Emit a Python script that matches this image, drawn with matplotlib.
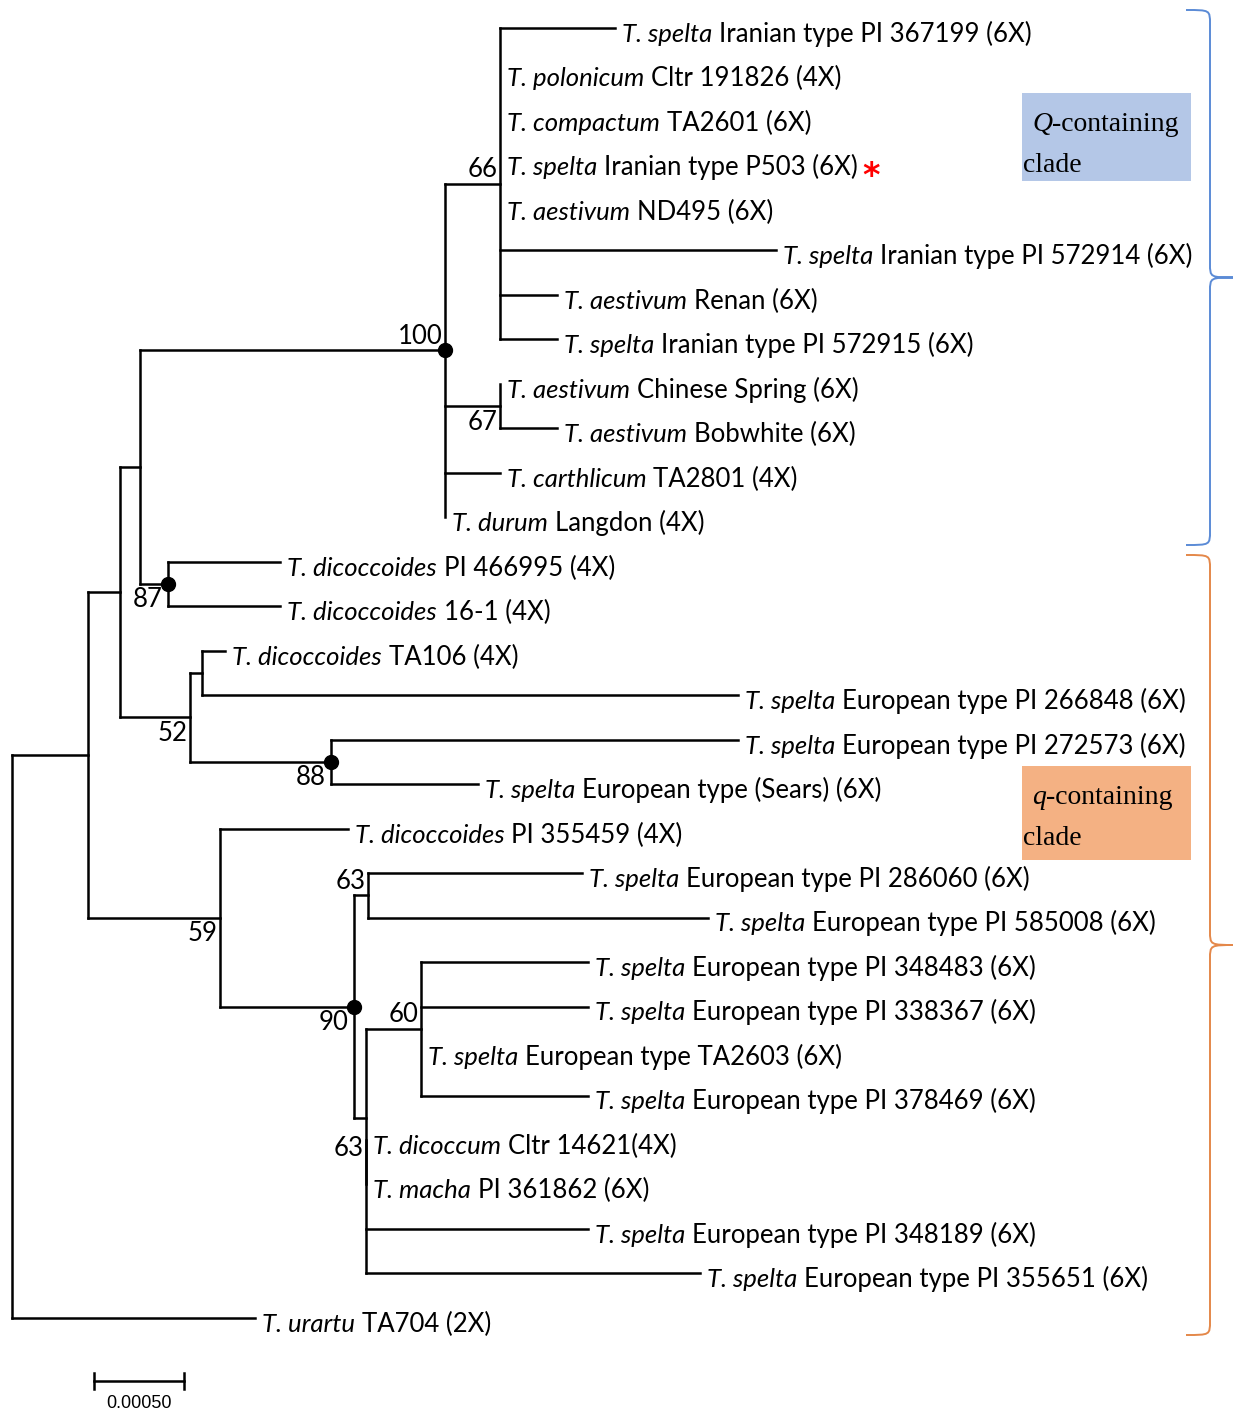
import matplotlib
matplotlib.use("Agg")
import matplotlib.pyplot as plt
from matplotlib.patches import Rectangle, PathPatch
from matplotlib.path import Path

# taxa from top to bottom
species = [
    "T. spelta", "T. polonicum", "T. compactum", "T. spelta", "T. aestivum",
    "T. spelta", "T. aestivum", "T. spelta", "T. aestivum", "T. aestivum",
    "T. carthlicum", "T. durum", "T. dicoccoides", "T. dicoccoides", "T. dicoccoides",
    "T. spelta", "T. spelta", "T. spelta", "T. dicoccoides", "T. spelta",
    "T. spelta", "T. spelta", "T. spelta", "T. spelta", "T. spelta",
    "T. dicoccum", "T. macha", "T. spelta", "T. spelta", "T. urartu",
]
strains = [
    "Iranian type PI 367199 (6X)", "Cltr 191826 (4X)", "TA2601 (6X)",
    "Iranian type P503 (6X)", "ND495 (6X)", "Iranian type PI 572914 (6X)",
    "Renan (6X)", "Iranian type PI 572915 (6X)", "Chinese Spring (6X)",
    "Bobwhite (6X)", "TA2801 (4X)", "Langdon (4X)", "PI 466995 (4X)",
    "16-1 (4X)", "TA106 (4X)", "European type PI 266848 (6X)",
    "European type PI 272573 (6X)", "European type (Sears) (6X)", "PI 355459 (4X)",
    "European type PI 286060 (6X)", "European type PI 585008 (6X)",
    "European type PI 348483 (6X)", "European type PI 338367 (6X)",
    "European type TA2603 (6X)", "European type PI 378469 (6X)",
    "Cltr 14621(4X)", "PI 361862 (6X)", "European type PI 348189 (6X)",
    "European type PI 355651 (6X)", "TA704 (2X)",
]
# terminal branch lengths (substitutions per site)
tip_len = [
    0.000639, 0.0, 0.0, 0.0, 0.0, 0.001533, 0.000317, 0.000317, 0.0, 0.000317,
    0.000306, 0.0, 0.000622, 0.000622, 0.000128, 0.002978, 0.002261, 0.000817,
    0.000711, 0.001189, 0.001889, 0.000928, 0.000928, 0.0, 0.000928,
    0.0, 0.0, 0.001233, 0.001856, 0.00135,
]
marked = [3]  # P503

# internal nodes: children are tip indices or node names
node_names = ["root", "A", "B", "D", "F", "H", "I", "G", "E", "J", "K",
              "C", "L", "M", "N", "O", "P"]
node_children = [
    ["A", 29], ["B", "C"], ["D", "E"], ["F", "G"], ["H", "I", 10, 11],
    [0, 1, 2, 3, 4, 5, 6, 7], [8, 9], [12, 13], ["J", "K"], [14, 15], [16, 17],
    [18, "L"], ["M", "N"], [19, 20], ["O", "P", 27, 28], [21, 22, 23, 24], [25, 26],
]
node_len = [0.0, 0.000422, 0.000178, 0.000111, 0.001694, 0.000306, 0.000306,
            0.000156, 0.000389, 0.000067, 0.000783, 0.000733, 0.000744,
            0.000078, 0.000067, 0.000306, 0.0]

boot_nodes = ["F", "H", "I", "G", "E", "K", "C", "M", "L", "O", "P"]
boot_vals = [100, 66, 67, 87, 52, 88, 59, 63, 90, 60, 63]
boot_above = ["F", "H", "M", "O", "P"]
dot_nodes = ["F", "G", "K", "L"]
# nodes drawn centred on their leaf span instead of their children
leaf_centred = ["N"]

scale_len = 0.0005
scale_label = "0.00050"

FS = 18.5
LFONT = ["Lato", "DejaVu Sans"]
LW = 1.8

fig = plt.figure(figsize=(12.33, 14.14), dpi=100)
ax = fig.add_axes([0, 0, 1, 1])
px = scale_len / 90.0
ax.set_xlim(-12 * px, 1221 * px)
ax.set_ylim(31.16, -0.63)
ax.axis("off")

tip_x = [0.0] * len(species)
node_x = {}
node_y = {}
span = {}


def seg(x0, x1, y0, y1):
    if x0 == x1 and y0 == y1:
        return
    ax.plot([x0, x1], [y0, y1], color="black", lw=LW, solid_capstyle="projecting")


def place(name, d):
    i = node_names.index(name)
    d = d + node_len[i]
    node_x[name] = d
    ys = []
    leaves = []
    for c in node_children[i]:
        if isinstance(c, int):
            tip_x[c] = d + tip_len[c]
            seg(d, tip_x[c], c, c)
            ys.append(c)
            leaves += [c, c]
        else:
            place(c, d)
            seg(d, node_x[c], node_y[c], node_y[c])
            ys.append(node_y[c])
            leaves += list(span[c])
    seg(d, d, ys[0], ys[-1])
    span[name] = (min(leaves), max(leaves))
    if name in leaf_centred:
        node_y[name] = sum(span[name]) / 2
    else:
        node_y[name] = (ys[0] + ys[-1]) / 2


place("root", 0.0)

# tip labels: italic genus/species, then regular accession on the same baseline
for i, (sp, rest) in enumerate(zip(species, strains)):
    t1 = ax.annotate(sp, xy=(tip_x[i], i), xytext=(5, -10), textcoords="offset points",
                     fontsize=FS, style="italic", family=LFONT, va="baseline", ha="left")
    t2 = ax.annotate(rest, xy=(1, i), xycoords=(t1, "data"), xytext=(5, -10),
                     textcoords="offset points", fontsize=FS, family=LFONT,
                     va="baseline", ha="left")
    if i in marked:
        ax.annotate("*", xy=(1, i), xycoords=(t2, "data"), xytext=(3, -18),
                    textcoords="offset points", fontsize=24, color="red",
                    fontweight="bold", va="baseline", ha="left")

# bootstrap values and dots
for n, v in zip(boot_nodes, boot_vals):
    up = n in boot_above
    dx = -4 if (n in dot_nodes and not up) else -1.5
    ax.annotate(str(v), xy=(node_x[n], node_y[n]), xytext=(dx, 1 if up else -2.5),
                textcoords="offset points", fontsize=FS, family=LFONT,
                ha="right", va="bottom" if up else "top")
for n in dot_nodes:
    ax.plot(node_x[n], node_y[n], "o", color="black", ms=10, zorder=5)

# scale bar
sx0 = 82 * px
sy = 30.42
ax.plot([sx0, sx0 + scale_len], [sy, sy], color="black", lw=1.8)
for xx in (sx0, sx0 + scale_len):
    ax.plot([xx, xx], [sy - 0.18, sy + 0.18], color="black", lw=1.8)
ax.annotate(scale_label, xy=(sx0 + scale_len / 2, sy), xytext=(0, -10),
            textcoords="offset points", fontsize=13, family="Liberation Sans",
            ha="center", va="top")

# decorations in pixel coordinates
deco = fig.add_axes([0, 0, 1, 1], zorder=-1)
deco.set_xlim(0, 1233)
deco.set_ylim(1414, 0)
deco.axis("off")


def brace(top, bot, color):
    xa, xb, xc, r = 1186, 1210, 1236, 14
    mid = (top + bot) / 2
    verts = [(xa, top), (xb, top), (xb, top), (xb, top + r),
             (xb, mid - r),
             (xb, mid), (xb, mid), (xc, mid),
             (xb, mid), (xb, mid), (xb, mid + r),
             (xb, bot - r),
             (xb, bot), (xb, bot), (xa, bot)]
    codes = [Path.MOVETO, Path.CURVE4, Path.CURVE4, Path.CURVE4,
             Path.LINETO,
             Path.CURVE4, Path.CURVE4, Path.CURVE4,
             Path.CURVE4, Path.CURVE4, Path.CURVE4,
             Path.LINETO,
             Path.CURVE4, Path.CURVE4, Path.CURVE4]
    deco.add_patch(PathPatch(Path(verts, codes), fill=False, edgecolor=color, lw=1.4))


brace(10, 545, "#5b8bd6")
brace(555, 1335, "#e4884a")

boxes = [(93, 181, "#b4c7e7", "Q"), (766, 860, "#f4b183", "q")]
for y0, y1, col, letter in boxes:
    deco.add_patch(Rectangle((1022, y0), 169, y1 - y0, facecolor=col, edgecolor="none"))
    q = deco.text(1032, y0 + 38, letter, fontsize=20, style="italic",
                  family="Liberation Serif", va="baseline", ha="left")
    deco.annotate("-containing", xy=(1, y0 + 38), xycoords=(q, "data"), fontsize=20,
                  family="Liberation Serif", va="baseline", ha="left")
    deco.text(1023, y0 + 79, "clade", fontsize=20, family="Liberation Serif",
              va="baseline", ha="left")

fig.savefig("out.png", dpi=100)
